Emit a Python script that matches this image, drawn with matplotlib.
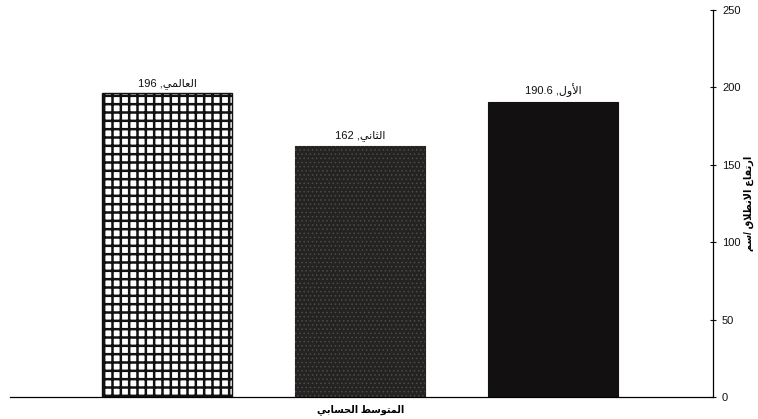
import matplotlib
matplotlib.use("Agg")
import matplotlib.pyplot as plt

# ---- data -------------------------------------------------------------
series_names = ["العالمي", "الثاني", "الأول"]
series_values = [196, 162, 190.6]
category_label = "المتوسط الحسابي"
y_label = "ارتفاع الانطلاق /سم"
y_ticks = [0, 50, 100, 150, 200, 250]

# ---- minimal Arabic shaping (presentation forms + visual order) ------
# (isolated, final, initial, medial); right-joining letters have no initial/medial
FORMS = {
    "ا": (0xFE8D, 0xFE8E, None, None),
    "أ": (0xFE83, 0xFE84, None, None),
    "إ": (0xFE87, 0xFE88, None, None),
    "آ": (0xFE81, 0xFE82, None, None),
    "ب": (0xFE8F, 0xFE90, 0xFE91, 0xFE92),
    "ة": (0xFE93, 0xFE94, None, None),
    "ت": (0xFE95, 0xFE96, 0xFE97, 0xFE98),
    "ث": (0xFE99, 0xFE9A, 0xFE9B, 0xFE9C),
    "ج": (0xFE9D, 0xFE9E, 0xFE9F, 0xFEA0),
    "ح": (0xFEA1, 0xFEA2, 0xFEA3, 0xFEA4),
    "خ": (0xFEA5, 0xFEA6, 0xFEA7, 0xFEA8),
    "د": (0xFEA9, 0xFEAA, None, None),
    "ذ": (0xFEAB, 0xFEAC, None, None),
    "ر": (0xFEAD, 0xFEAE, None, None),
    "ز": (0xFEAF, 0xFEB0, None, None),
    "س": (0xFEB1, 0xFEB2, 0xFEB3, 0xFEB4),
    "ش": (0xFEB5, 0xFEB6, 0xFEB7, 0xFEB8),
    "ص": (0xFEB9, 0xFEBA, 0xFEBB, 0xFEBC),
    "ض": (0xFEBD, 0xFEBE, 0xFEBF, 0xFEC0),
    "ط": (0xFEC1, 0xFEC2, 0xFEC3, 0xFEC4),
    "ظ": (0xFEC5, 0xFEC6, 0xFEC7, 0xFEC8),
    "ع": (0xFEC9, 0xFECA, 0xFECB, 0xFECC),
    "غ": (0xFECD, 0xFECE, 0xFECF, 0xFED0),
    "ف": (0xFED1, 0xFED2, 0xFED3, 0xFED4),
    "ق": (0xFED5, 0xFED6, 0xFED7, 0xFED8),
    "ك": (0xFED9, 0xFEDA, 0xFEDB, 0xFEDC),
    "ل": (0xFEDD, 0xFEDE, 0xFEDF, 0xFEE0),
    "م": (0xFEE1, 0xFEE2, 0xFEE3, 0xFEE4),
    "ن": (0xFEE5, 0xFEE6, 0xFEE7, 0xFEE8),
    "ه": (0xFEE9, 0xFEEA, 0xFEEB, 0xFEEC),
    "و": (0xFEED, 0xFEEE, None, None),
    "ى": (0xFEEF, 0xFEF0, None, None),
    "ي": (0xFEF1, 0xFEF2, 0xFEF3, 0xFEF4),
}
LAM_ALEF = {"ا": (0xFEFB, 0xFEFC), "أ": (0xFEF7, 0xFEF8),
            "إ": (0xFEF9, 0xFEFA), "آ": (0xFEF5, 0xFEF6)}


def shape_rtl(text):
    out = []
    prev_connects = False
    i, n = 0, len(text)
    while i < n:
        c = text[i]
        if c not in FORMS:
            out.append(c)
            prev_connects = False
            i += 1
            continue
        if c == "ل" and i + 1 < n and text[i + 1] in LAM_ALEF:
            iso, fin = LAM_ALEF[text[i + 1]]
            out.append(chr(fin if prev_connects else iso))
            prev_connects = False
            i += 2
            continue
        iso, fin, ini, med = FORMS[c]
        dual = ini is not None
        next_joins = dual and i + 1 < n and text[i + 1] in FORMS
        if prev_connects and next_joins:
            g = med
        elif prev_connects:
            g = fin
        elif next_joins:
            g = ini
        else:
            g = iso
        out.append(chr(g))
        prev_connects = dual
        i += 1
    return "".join(reversed(out))


FONT = ["Liberation Sans", "DejaVu Sans"]
plt.rcParams["font.family"] = FONT
plt.rcParams["hatch.linewidth"] = 1.8

# ---- figure -----------------------------------------------------------
fig = plt.figure(figsize=(7.58, 4.19), dpi=100)
ax = fig.add_axes([0.0132, 0.0525, 0.9275, 0.924])

x = [0, 1, 2]
width = 0.675

# bar 1: white with a heavy black grid
ax.bar(x[0], series_values[0], width, color="white", edgecolor="#111111",
       hatch="++", linewidth=1.0, zorder=2)
# bar 2: near-black with a faint speckle
ax.bar(x[1], series_values[1], width, color="#252222", edgecolor="#252222",
       linewidth=0.8, zorder=2)
with plt.rc_context({"hatch.linewidth": 0.6}):
    ax.bar(x[1], series_values[1], width, fill=False, edgecolor="#4c4a4a",
           hatch="....", linewidth=0, zorder=3)
# bar 3: solid black
ax.bar(x[2], series_values[2], width, color="#121010", edgecolor="#121010",
       linewidth=0.8, zorder=2)

for xi, name, val in zip(x, series_names, series_values):
    label = f"{val:g} ," + shape_rtl(name)
    ax.text(xi, val + 3, label, ha="center", va="bottom", fontsize=8,
            family=FONT, color="#111111")

ax.set_xlim(-0.816, 2.83)
ax.set_ylim(0, 250)

ax.spines["top"].set_visible(False)
ax.spines["left"].set_visible(False)
ax.spines["right"].set_linewidth(0.9)
ax.spines["bottom"].set_linewidth(0.9)

ax.yaxis.tick_right()
ax.set_yticks(y_ticks)
ax.tick_params(axis="y", direction="inout", length=5, width=0.8,
               labelsize=8, pad=4, colors="#111111")

ax.set_xticks([1.0])
ax.set_xticklabels([shape_rtl(category_label)], fontsize=7, family=FONT,
                   fontweight="bold")
ax.tick_params(axis="x", length=0, pad=5)

ax.yaxis.set_label_position("right")
ax.set_ylabel(shape_rtl(y_label), fontsize=7, family=FONT, fontweight="bold",
              rotation=90, labelpad=2)

fig.savefig("out.png", dpi=100)
